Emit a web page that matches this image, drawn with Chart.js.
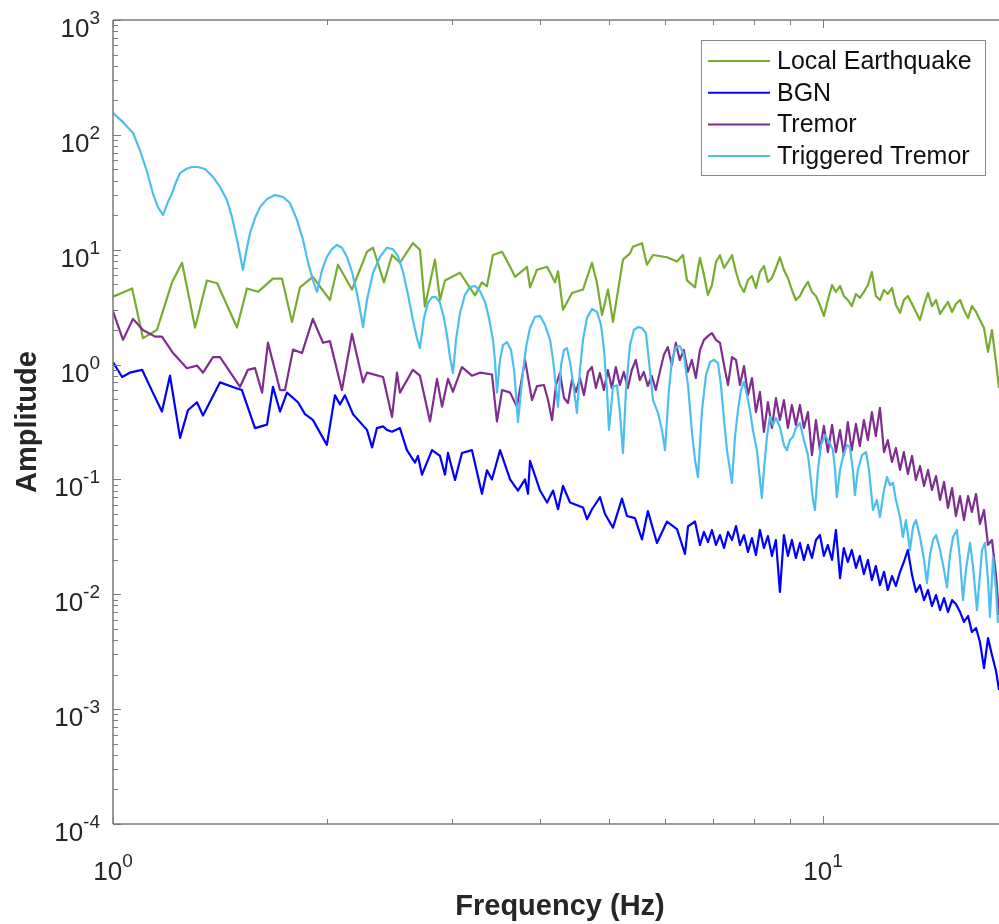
<!DOCTYPE html>
<html>
<head>
<meta charset="utf-8">
<script src="https://cdn.jsdelivr.net/npm/chart.js@4.4.0/dist/chart.umd.min.js"></script>
<style>
  html, body { margin: 0; padding: 0; background: #fff; }
  #wrap { width: 999px; height: 924px; }
</style>
</head>
<body>
<div id="wrap"><canvas id="spectra" width="999" height="924"></canvas></div>
<script>
// Spectra: frequency (Hz) / amplitude
const seriesNames = ['Local Earthquake', 'BGN', 'Tremor', 'Triggered Tremor'];
const seriesColors = ['#77AC30', '#0000FF', '#7E2F8E', '#4DBEEE'];

// frequencies shared by the noisy high end (about 6.7 - 17.7 Hz)
const hfFreq = [6.711, 6.798, 6.887, 6.977, 7.069, 7.161, 7.255, 7.350, 7.445, 7.543,
    7.641, 7.741, 7.842, 7.943, 8.047, 8.152, 8.258, 8.366, 8.474, 8.585,
    8.697, 8.811, 8.925, 9.042, 9.160, 9.280, 9.401, 9.525, 9.650, 9.775,
    9.903, 10.03, 10.16, 10.30, 10.43, 10.57, 10.70, 10.84, 10.98, 11.13,
    11.27, 11.42, 11.57, 11.72, 11.87, 12.03, 12.19, 12.34, 12.51, 12.67,
    12.84, 13.00, 13.17, 13.35, 13.52, 13.70, 13.88, 14.06, 14.24, 14.43,
    14.62, 14.81, 15.00, 15.20, 15.39, 15.60, 15.80, 16.01, 16.21, 16.43,
    16.64, 16.86, 17.08, 17.30, 17.53, 17.70];

// Local Earthquake
const eqFreqLow = [1.000, 1.064, 1.102, 1.153, 1.211, 1.251, 1.305, 1.356, 1.402, 1.495,
    1.544, 1.601, 1.680, 1.730, 1.787, 1.834, 1.912, 2.021, 2.074, 2.171,
    2.279, 2.324, 2.408, 2.472, 2.536, 2.645, 2.706, 2.750, 2.841, 2.888,
    2.935, 3.081, 3.235, 3.309, 3.363, 3.429, 3.532, 3.625, 3.684, 3.830,
    3.867, 3.956, 4.087, 4.194, 4.235, 4.304, 4.431, 4.592, 4.728, 4.806,
    4.885, 4.980, 5.061, 5.228, 5.348, 5.400, 5.560, 5.651, 5.763, 6.030,
    6.229, 6.351, 6.435, 6.604, 6.668];
const eqAmpLow = [3.9, 4.6, 1.7, 2.0, 5.2, 7.7, 2.1, 5.4, 5.1, 2.1,
    4.6, 4.3, 5.6, 5.6, 2.35, 4.7, 5.8, 3.65, 7.4, 4.5,
    9.6, 10.4, 5.2, 9.0, 7.7, 11.4, 10, 3.2, 8.2, 3.65,
    5.4, 6.3, 4.0, 5.2, 4.8, 9.0, 9.6, 7.1, 5.8, 7.1,
    4.7, 6.7, 7.1, 5.2, 6.5, 3.0, 4.2, 4.5, 7.7, 5.1,
    2.7, 4.5, 2.35, 8.2, 9.3, 10.6, 11.4, 7.4, 9.0, 8.6,
    7.9, 9.0, 5.4, 4.7, 6.9];
const eqAmpHigh = [8.48, 6.02, 4.04, 4.93, 7.82, 8.95, 6.93, 7.82, 8.95, 6.40,
    4.93, 4.29, 5.45, 5.90, 4.64, 6.40, 7.21, 5.24, 5.67, 6.93,
    8.60, 6.66, 5.67, 4.46, 3.65, 3.96, 4.64, 5.24, 4.29, 3.96,
    3.30, 2.65, 3.65, 4.93, 4.29, 4.83, 3.96, 3.65, 3.23, 4.12,
    3.81, 4.29, 4.93, 6.40, 3.96, 3.65, 4.46, 4.12, 4.64, 3.30,
    2.82, 3.65, 3.96, 3.37, 2.87, 2.44, 3.30, 4.20, 3.23, 3.65,
    2.76, 3.11, 3.51, 2.87, 3.37, 3.65, 2.99, 2.54, 3.23, 2.87,
    2.44, 2.08, 1.29, 2.00, 1.05, 0.626];

// BGN
const bgnFreqLow = [1.000, 1.030, 1.056, 1.099, 1.138, 1.172, 1.203, 1.243, 1.275, 1.313,
    1.339, 1.415, 1.495, 1.519, 1.585, 1.648, 1.680, 1.719, 1.758, 1.822,
    1.864, 1.912, 2.001, 2.054, 2.088, 2.122, 2.178, 2.279, 2.317, 2.354,
    2.401, 2.431, 2.472, 2.536, 2.594, 2.663, 2.689, 2.724, 2.814, 2.888,
    2.935, 2.964, 3.032, 3.101, 3.203, 3.309, 3.363, 3.418, 3.509, 3.625,
    3.719, 3.805, 3.842, 3.867, 3.995, 4.087, 4.167, 4.235, 4.304, 4.403,
    4.592, 4.652, 4.728, 4.853, 4.932, 5.061, 5.211, 5.296, 5.435, 5.560,
    5.668, 5.837, 6.030, 6.229, 6.392, 6.456, 6.604];
const bgnAmpLow = [1.05, 0.78, 0.85, 0.9, 0.57, 0.39, 0.8, 0.23, 0.4, 0.47,
    0.36, 0.7, 0.62, 0.6, 0.28, 0.3, 0.64, 0.39, 0.57, 0.47,
    0.37, 0.33, 0.2, 0.54, 0.45, 0.54, 0.37, 0.27, 0.19, 0.28,
    0.29, 0.27, 0.26, 0.28, 0.18, 0.14, 0.16, 0.11, 0.18, 0.16,
    0.11, 0.17, 0.099, 0.17, 0.18, 0.075, 0.12, 0.1, 0.18, 0.1,
    0.08, 0.1, 0.075, 0.145, 0.08, 0.063, 0.08, 0.055, 0.088, 0.063,
    0.057, 0.045, 0.055, 0.07, 0.05, 0.038, 0.068, 0.048, 0.046, 0.03,
    0.053, 0.028, 0.043, 0.037, 0.0225, 0.039, 0.043];
const bgnAmpHigh = [0.0269, 0.0349, 0.0285, 0.0363, 0.0269, 0.0328, 0.0253, 0.0349, 0.0297, 0.0393,
    0.0269, 0.0328, 0.0234, 0.0309, 0.0220, 0.0363, 0.0253, 0.0321, 0.0216, 0.0297,
    0.0105, 0.0328, 0.0216, 0.0297, 0.0207, 0.0280, 0.0199, 0.0269, 0.0207, 0.0297,
    0.0328, 0.0216, 0.0269, 0.0199, 0.0363, 0.0138, 0.0253, 0.0191, 0.0243, 0.0170,
    0.0216, 0.0150, 0.0199, 0.0133, 0.0176, 0.0120, 0.0157, 0.0109, 0.0144, 0.0118,
    0.0157, 0.0191, 0.0243, 0.0147, 0.0105, 0.0120, 0.00891, 0.0109, 0.0079, 0.00985,
    0.00729, 0.00928, 0.0070, 0.00891, 0.00822, 0.0070, 0.00574, 0.00647, 0.00469, 0.00509,
    0.00384, 0.00228, 0.00416, 0.00296, 0.00215, 0.00147];

// Tremor
const tremFreqLow = [1.000, 1.033, 1.067, 1.102, 1.146, 1.172, 1.215, 1.271, 1.313, 1.339,
    1.383, 1.415, 1.510, 1.549, 1.585, 1.622, 1.653, 1.719, 1.747, 1.793,
    1.846, 1.912, 1.976, 2.021, 2.101, 2.171, 2.250, 2.279, 2.401, 2.472,
    2.512, 2.536, 2.645, 2.706, 2.796, 2.860, 2.907, 2.964, 3.012, 3.101,
    3.203, 3.288, 3.418, 3.474, 3.532, 3.625, 3.707, 3.805, 3.892, 3.956];
const tremAmpLow = [2.9, 1.64, 2.5, 2.0, 1.75, 1.75, 1.26, 0.93, 0.98, 0.85,
    1.16, 1.16, 0.64, 0.9, 0.93, 0.57, 1.55, 0.6, 0.6, 1.35,
    1.26, 2.5, 1.55, 1.6, 0.6, 1.85, 0.7, 0.85, 0.78, 0.35,
    0.85, 0.57, 0.9, 0.8, 0.32, 0.75, 0.43, 0.75, 0.58, 0.95,
    0.8, 0.85, 0.82, 0.32, 0.6, 0.57, 0.43, 1.1, 0.49, 0.65];
const tremFreqMid = [4.046, 4.100, 4.153, 4.207, 4.262, 4.318, 4.374, 4.431, 4.488, 4.547,
    4.606, 4.666, 4.727, 4.788, 4.851, 4.914, 4.978, 5.043, 5.108, 5.175,
    5.242, 5.310, 5.380, 5.450, 5.521, 5.594, 5.666, 5.740, 5.815, 5.891,
    5.969, 6.046, 6.125, 6.205, 6.286, 6.368, 6.452, 6.536, 6.622];
const tremAmpMid = [0.664, 0.491, 0.329, 0.664, 0.845, 0.511, 0.463, 0.734, 0.578, 0.764,
    0.543, 0.862, 0.952, 0.626, 0.845, 0.601, 0.897, 0.626, 0.952, 0.664,
    0.862, 0.626, 0.897, 1.096, 0.734, 0.862, 0.651, 0.795, 0.601, 0.862,
    1.21, 1.42, 0.991, 1.545, 1.096, 1.34, 0.862, 1.096, 0.764];
const tremAmpHigh = [1.34, 1.64, 1.77, 1.88, 1.64, 1.545, 0.991, 0.664, 1.16, 1.096,
    0.664, 0.971, 0.543, 0.764, 0.386, 0.578, 0.259, 0.472, 0.281, 0.511,
    0.329, 0.491, 0.281, 0.445, 0.298, 0.445, 0.281, 0.386, 0.163, 0.329,
    0.180, 0.292, 0.173, 0.298, 0.173, 0.269, 0.163, 0.316, 0.180, 0.304,
    0.195, 0.329, 0.220, 0.386, 0.239, 0.419, 0.173, 0.220, 0.142, 0.188,
    0.121, 0.173, 0.1115, 0.160, 0.0988, 0.131, 0.0876, 0.121, 0.0809, 0.107,
    0.0662, 0.095, 0.0564, 0.0842, 0.048, 0.0716, 0.0443, 0.0716, 0.0521, 0.0747,
    0.0409, 0.0542, 0.0269, 0.0297, 0.0147, 0.0066];

// Triggered Tremor (lobed spectrum)
const trigFreq = [1.000, 1.033, 1.067, 1.091, 1.117, 1.138, 1.157, 1.176,
    1.195, 1.211, 1.227, 1.243, 1.267, 1.292, 1.317, 1.348, 1.383, 1.415, 1.447, 1.471, 1.495, 1.510, 1.524,
    1.544, 1.560, 1.585, 1.611, 1.648, 1.691, 1.736, 1.775, 1.816, 1.852, 1.882, 1.912, 1.938,
    1.970, 2.001, 2.034, 2.068, 2.101, 2.136, 2.171, 2.206, 2.235, 2.250,
    2.279, 2.324, 2.377, 2.431, 2.480, 2.520, 2.562, 2.604, 2.645, 2.680, 2.706,
    2.742, 2.777, 2.814, 2.851, 2.888, 2.925, 2.954, 2.983, 3.012,
    3.042, 3.081, 3.131, 3.182, 3.235, 3.288, 3.342, 3.385, 3.429, 3.451, 3.474,
    3.509, 3.543, 3.589, 3.636, 3.672, 3.696, 3.719,
    3.769, 3.818, 3.867, 3.930, 3.995, 4.060, 4.127, 4.167, 4.207, 4.235,
    4.276, 4.318, 4.360, 4.403, 4.446, 4.503,
    4.547, 4.592, 4.652, 4.728, 4.806, 4.869, 4.916, 4.964, 4.996,
    5.061, 5.127, 5.177, 5.228,
    5.279, 5.348, 5.417, 5.488, 5.560, 5.632, 5.705, 5.763, 5.856, 5.932, 5.991,
    6.068, 6.128, 6.209, 6.288, 6.370, 6.456, 6.540, 6.604, 6.668,
    6.755, 6.843, 6.933, 7.023, 7.115, 7.184, 7.255, 7.325, 7.396, 7.444,
    7.517, 7.592, 7.666, 7.741, 7.816, 7.891, 7.968, 8.072, 8.152, 8.204,
    8.258, 8.338, 8.420, 8.502, 8.585, 8.697, 8.811, 8.897, 8.984, 9.072,
    9.160, 9.280, 9.401, 9.525, 9.618, 9.681, 9.743, 9.839, 9.935, 10.07,
    10.20, 10.33, 10.40, 10.46, 10.57, 10.67, 10.81, 10.91, 11.02, 11.09,
    11.20, 11.35, 11.50, 11.61, 11.76, 11.91, 12.03, 12.19, 12.31, 12.43,
    12.55, 12.67, 12.84, 12.96, 13.09, 13.26, 13.39, 13.52, 13.70, 13.88,
    14.01, 14.15, 14.29, 14.43, 14.62, 14.81, 14.95, 15.10, 15.25, 15.44,
    15.60, 15.75, 15.90, 16.11, 16.26, 16.48, 16.64, 16.75, 16.91, 17.08,
    17.19, 17.36, 17.53, 17.64];
const trigAmp = [155, 129, 104, 73.8, 47.5, 31, 23.5, 20,
    26.0, 31, 38.9, 46.5, 50.4, 52.5, 52.5, 50.4, 43, 35.2, 27.1, 19.3, 12.2, 9.0, 6.65,
    10.4, 14, 18.9, 23.5, 27.7, 29.9, 28.8, 25.5, 18.2, 12.2, 7.8, 5.45, 4.29,
    6.65, 8.65, 10.1, 11, 10.4, 8.65, 6.4, 4.2, 2.7, 2.12,
    3.65, 6.3, 8.65, 10.4, 10.1, 8.8, 6.4, 4.04, 2.44, 1.7, 1.39,
    2.55, 3.44, 3.87, 3.87, 3.44, 2.55, 1.81, 1.16, 0.845,
    1.64, 2.81, 4.04, 4.73, 4.83, 4.37, 3.51, 2.55, 1.64, 1.1, 0.57,
    1.1, 1.48, 1.57, 1.34, 0.9, 0.54, 0.316,
    0.734, 1.42, 2.08, 2.6, 2.65, 2.21, 1.64, 1.1, 0.638, 0.428,
    0.99, 1.34, 1.39, 1.05, 0.7, 0.38,
    0.9, 1.64, 2.55, 3.05, 2.87, 2.21, 1.34, 0.6, 0.27,
    0.64, 0.66, 0.38, 0.17,
    0.6, 1.48, 2.0, 2.12, 2.08, 1.88, 0.9, 0.49, 0.38, 0.27, 0.18,
    0.6, 1.1, 1.42, 1.45, 1.21, 0.66, 0.254, 0.148, 0.105,
    0.4, 0.81, 1.05, 1.1, 1.03, 0.66, 0.33, 0.18, 0.121, 0.0931,
    0.234, 0.402, 0.601, 0.705, 0.543, 0.402, 0.269, 0.180, 0.0988, 0.0689,
    0.121, 0.234, 0.350, 0.298, 0.343, 0.286, 0.199, 0.180, 0.220, 0.234,
    0.281, 0.310, 0.220, 0.163, 0.0988, 0.0662, 0.0542, 0.121, 0.199, 0.244,
    0.212, 0.180, 0.121, 0.0702, 0.121, 0.157, 0.199, 0.192, 0.121, 0.0731,
    0.121, 0.163, 0.173, 0.121, 0.0542, 0.0662, 0.0471, 0.0809, 0.105, 0.0894,
    0.0931, 0.0662, 0.0471, 0.0315, 0.0443, 0.0243, 0.0385, 0.0443, 0.0315, 0.0199,
    0.0125, 0.0220, 0.0297, 0.0328, 0.0243, 0.0163, 0.0115, 0.0220, 0.0315, 0.0363,
    0.0199, 0.00891, 0.0163, 0.0280, 0.0180, 0.00729, 0.0147, 0.0243, 0.0280, 0.0133,
    0.00634, 0.0211, 0.0109, 0.00562];

// Axis ranges and decade labels
const xRange = [1, 17.7];
const yRange = [1e-4, 1e3];
const xTickExps = [0, 1];
const yTickExps = [-4, -3, -2, -1, 0, 1, 2, 3];

const AXIS_COLOR = '#7a7a7a';
const TEXT_COLOR = '#262626';
const FONT = '"Liberation Sans", Arial, Helvetica, sans-serif';

function toPoints(freqs, amps) {
    return freqs.map((f, i) => ({ x: f, y: amps[i] }));
}

const seriesData = [
    toPoints(eqFreqLow.concat(hfFreq), eqAmpLow.concat(eqAmpHigh)),
    toPoints(bgnFreqLow.concat(hfFreq), bgnAmpLow.concat(bgnAmpHigh)),
    toPoints(tremFreqLow.concat(tremFreqMid, hfFreq), tremAmpLow.concat(tremAmpMid, tremAmpHigh)),
    toPoints(trigFreq, trigAmp)
];

// "10" with a raised exponent
function drawPower(ctx, exp, x, baseY, align) {
    const baseFont = '26px ' + FONT;
    const expFont = '19px ' + FONT;
    ctx.font = baseFont;
    const bw = ctx.measureText('10').width;
    ctx.font = expFont;
    const ew = ctx.measureText(String(exp)).width;
    const left = align === 'right' ? x - bw - ew : x - (bw + ew) / 2;
    ctx.textAlign = 'left';
    ctx.textBaseline = 'alphabetic';
    ctx.font = baseFont;
    ctx.fillText('10', left, baseY);
    ctx.font = expFont;
    ctx.fillText(String(exp), left + bw, baseY - 13);
}

const axisDecor = {
    id: 'axisDecor',
    afterDatasetsDraw(chart) {
        const { ctx, chartArea: area, scales } = chart;
        const xs = scales.x, ys = scales.y;
        ctx.save();

        // axes box, the right side is off the picture
        ctx.strokeStyle = AXIS_COLOR;
        ctx.lineWidth = 1.5;
        ctx.beginPath();
        ctx.moveTo(area.left, area.top); ctx.lineTo(area.right, area.top);
        ctx.moveTo(area.left, area.bottom); ctx.lineTo(area.right, area.bottom);
        ctx.moveTo(area.left, area.top); ctx.lineTo(area.left, area.bottom);
        ctx.stroke();

        // log ticks pointing inward
        ctx.lineWidth = 1;
        ctx.beginPath();
        for (let e = yTickExps[0]; e <= yTickExps[yTickExps.length - 1]; e++) {
            for (let m = 1; m <= 9; m++) {
                const v = m * Math.pow(10, e);
                if (v > yRange[1] * 1.0001) break;
                const py = Math.round(ys.getPixelForValue(v)) + 0.5;
                const len = m === 1 ? 8 : 5;
                ctx.moveTo(area.left, py); ctx.lineTo(area.left + len, py);
            }
        }
        for (let m = 1; m <= 10; m++) {
            if (m > xRange[1]) break;
            const px = Math.round(xs.getPixelForValue(m)) + 0.5;
            const len = (m === 1 || m === 10) ? 8 : 5;
            ctx.moveTo(px, area.top); ctx.lineTo(px, area.top + len);
            ctx.moveTo(px, area.bottom); ctx.lineTo(px, area.bottom - len);
        }
        ctx.stroke();

        // tick labels
        ctx.fillStyle = TEXT_COLOR;
        yTickExps.forEach(e => {
            const py = ys.getPixelForValue(Math.pow(10, e));
            drawPower(ctx, e, 100, py + 17, 'right');
        });
        xTickExps.forEach(e => {
            const px = xs.getPixelForValue(Math.pow(10, e));
            drawPower(ctx, e, px, area.bottom + 56, 'center');
        });

        // axis titles
        ctx.font = 'bold 29px ' + FONT;
        ctx.textAlign = 'center';
        ctx.textBaseline = 'alphabetic';
        ctx.fillText('Frequency (Hz)', (area.left + area.right) / 2 + 4, 915);
        ctx.save();
        ctx.translate(36, (area.top + area.bottom) / 2);
        ctx.rotate(-Math.PI / 2);
        ctx.fillText('Amplitude', 0, 0);
        ctx.restore();

        // legend
        const lg = { x: 701, y: 40, w: 284, h: 135 };
        ctx.fillStyle = '#fff';
        ctx.fillRect(lg.x, lg.y, lg.w, lg.h);
        ctx.strokeStyle = '#8a8a8a';
        ctx.lineWidth = 1;
        ctx.strokeRect(lg.x + 0.5, lg.y + 0.5, lg.w, lg.h);
        ctx.font = '25px ' + FONT;
        ctx.textAlign = 'left';
        ctx.textBaseline = 'middle';
        seriesNames.forEach((name, i) => {
            const ry = 61 + i * 31.7;
            ctx.strokeStyle = seriesColors[i];
            ctx.lineWidth = 2;
            ctx.beginPath();
            ctx.moveTo(708, ry); ctx.lineTo(770, ry);
            ctx.stroke();
            ctx.fillStyle = '#111';
            ctx.fillText(name, 777, ry + 1);
        });
        ctx.restore();
    }
};

new Chart(document.getElementById('spectra'), {
    type: 'line',
    data: {
        datasets: seriesNames.map((name, i) => ({
            label: name,
            data: seriesData[i],
            borderColor: seriesColors[i],
            backgroundColor: seriesColors[i],
            borderWidth: 2.2,
            borderJoinStyle: 'round',
            pointRadius: 0,
            tension: 0,
            fill: false,
            order: seriesNames.length - i
        }))
    },
    options: {
        responsive: false,
        animation: false,
        devicePixelRatio: 1,
        layout: { padding: { left: 113, top: 20, right: 0, bottom: 100 } },
        plugins: { legend: { display: false }, tooltip: { enabled: false } },
        scales: {
            x: { type: 'logarithmic', min: xRange[0], max: xRange[1], display: false },
            y: { type: 'logarithmic', min: yRange[0], max: yRange[1], display: false }
        }
    },
    plugins: [axisDecor]
});
</script>
</body>
</html>
